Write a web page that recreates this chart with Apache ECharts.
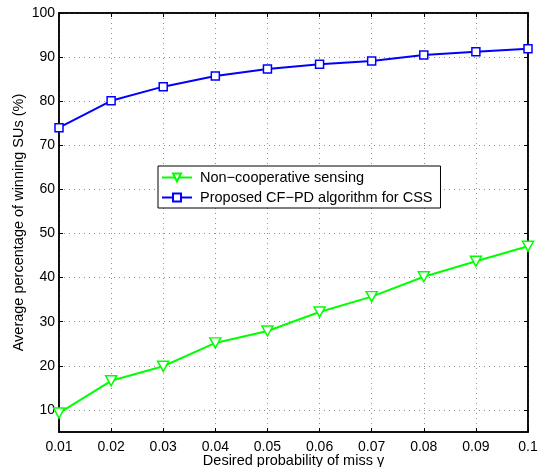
<!DOCTYPE html>
<html><head><meta charset="utf-8">
<script src="https://cdn.jsdelivr.net/npm/echarts@6/dist/echarts.min.js"></script>
<style>html,body{margin:0;padding:0;background:#fff}#c{width:539px;height:467px}</style>
</head><body><div id="c"></div>
<script>
const categories = ['0.01','0.02','0.03','0.04','0.05','0.06','0.07','0.08','0.09','0.1'];
const nonCoop = [9.3, 16.6, 19.9, 25.2, 27.9, 32.2, 35.7, 40.2, 43.7, 47.1];
const proposed = [74.0, 80.1, 83.3, 85.7, 87.3, 88.4, 89.1, 90.5, 91.2, 91.9];
const yTicks = [10, 20, 30, 40, 50, 60, 70, 80, 90, 100];
const seriesNames = ['Non\u2212cooperative sensing', 'Proposed CF\u2212PD algorithm for CSS'];

const font = 'Liberation Sans, Arial, Helvetica, sans-serif';
const chart = echarts.init(document.getElementById('c'), null, {renderer: 'canvas'});
const gridSplit = {show: true, lineStyle: {color: '#909090', type: [1, 4], width: 1}};
chart.setOption({
  animation: false,
  backgroundColor: '#fff',
  grid: {left: 59, right: 11, top: 13, bottom: 35, show: true, borderColor: '#000', borderWidth: 1.5,
         backgroundColor: 'transparent', outerBoundsMode: 'none', containLabel: false},
  legend: {
    orient: 'vertical', left: 158, top: 166,
    backgroundColor: '#fff', borderColor: '#000', borderWidth: 1,
    padding: [4, 8, 3, 3], itemGap: 5, itemWidth: 30, itemHeight: 10,
    textStyle: {fontFamily: font, fontSize: 14.5, color: '#000', padding: [0, 0, 0, 3]},
    data: seriesNames
  },
  xAxis: [{
    type: 'category', data: categories, boundaryGap: false,
    name: 'Desired probability of miss \u03b3', nameLocation: 'middle', nameGap: 21, nameMoveOverlap: false,
    nameTextStyle: {fontFamily: font, fontSize: 14.5, color: '#000'},
    axisLine: {lineStyle: {color: '#000', width: 1.5}},
    axisTick: {inside: true, length: 4, lineStyle: {color: '#000'}},
    axisLabel: {fontFamily: font, fontSize: 14, color: '#000', margin: 8, showMaxLabel: true, showMinLabel: true, interval: 0},
    splitLine: gridSplit
  }, {
    type: 'category', data: categories, boundaryGap: false, position: 'top',
    axisLine: {lineStyle: {color: '#000', width: 1.5}},
    axisTick: {inside: true, length: 4, lineStyle: {color: '#000'}},
    axisLabel: {show: false}, splitLine: {show: false}
  }],
  yAxis: [{
    type: 'value', min: 5, max: 100,
    name: 'Average percentage of winning SUs (%)', nameLocation: 'middle', nameGap: 33, nameMoveOverlap: false,
    nameTextStyle: {fontFamily: font, fontSize: 14.5, color: '#000'},
    axisLine: {show: true, lineStyle: {color: '#000', width: 1.5}},
    axisTick: {show: true, inside: true, length: 4, customValues: yTicks, lineStyle: {color: '#000'}},
    axisLabel: {fontFamily: font, fontSize: 14, color: '#000', margin: 4, customValues: yTicks},
    splitLine: gridSplit
  }, {
    type: 'value', min: 5, max: 100, position: 'right',
    axisLine: {show: true, lineStyle: {color: '#000', width: 1.5}},
    axisTick: {show: true, inside: true, length: 4, customValues: yTicks, lineStyle: {color: '#000'}},
    axisLabel: {show: false, customValues: yTicks}, splitLine: {show: false}
  }],
  series: [{
    name: seriesNames[0], type: 'line', data: nonCoop,
    symbol: 'path://M0,0 L10,0 L5,9 Z', symbolSize: [11, 10], showAllSymbol: true,
    lineStyle: {color: '#00ff00', width: 2},
    itemStyle: {color: '#fff', borderColor: '#00ff00', borderWidth: 1.5},
    color: '#00ff00', z: 3
  }, {
    name: seriesNames[1], type: 'line', data: proposed,
    symbol: 'rect', symbolSize: 8, showAllSymbol: true,
    lineStyle: {color: '#0000ff', width: 2},
    itemStyle: {color: '#fff', borderColor: '#0000ff', borderWidth: 1.5},
    color: '#0000ff', z: 3
  }]
});
</script></body></html>
